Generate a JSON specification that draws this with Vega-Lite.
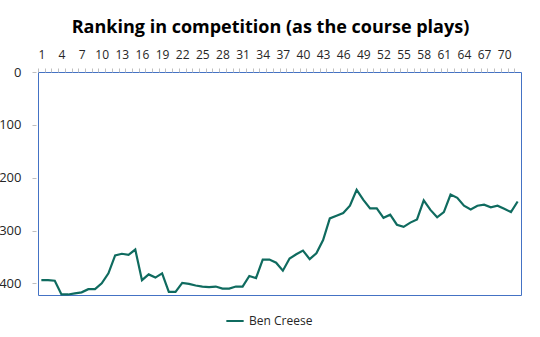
{
  "$schema": "https://vega.github.io/schema/vega-lite/v6.json",
  "width": 483,
  "height": 223,
  "autosize": {"type": "none"},
  "padding": {"left": 38, "top": 72, "right": 19, "bottom": 42},
  "background": "white",
  "title": {"text": "Ranking in competition (as the course plays)", "fontSize": 18, "font": "Open Sans", "fontWeight": "bold", "color": "#000000", "offset": 11, "dx": -9, "anchor": "middle"},
  "data": {"values": [
    {"hole": 1, "rank": 394, "player": "Ben Creese"},
    {"hole": 2, "rank": 394, "player": "Ben Creese"},
    {"hole": 3, "rank": 395, "player": "Ben Creese"},
    {"hole": 4, "rank": 421, "player": "Ben Creese"},
    {"hole": 5, "rank": 421, "player": "Ben Creese"},
    {"hole": 6, "rank": 419, "player": "Ben Creese"},
    {"hole": 7, "rank": 417, "player": "Ben Creese"},
    {"hole": 8, "rank": 411, "player": "Ben Creese"},
    {"hole": 9, "rank": 411, "player": "Ben Creese"},
    {"hole": 10, "rank": 400, "player": "Ben Creese"},
    {"hole": 11, "rank": 381, "player": "Ben Creese"},
    {"hole": 12, "rank": 347, "player": "Ben Creese"},
    {"hole": 13, "rank": 344, "player": "Ben Creese"},
    {"hole": 14, "rank": 346, "player": "Ben Creese"},
    {"hole": 15, "rank": 336, "player": "Ben Creese"},
    {"hole": 16, "rank": 394, "player": "Ben Creese"},
    {"hole": 17, "rank": 383, "player": "Ben Creese"},
    {"hole": 18, "rank": 389, "player": "Ben Creese"},
    {"hole": 19, "rank": 381, "player": "Ben Creese"},
    {"hole": 20, "rank": 416, "player": "Ben Creese"},
    {"hole": 21, "rank": 416, "player": "Ben Creese"},
    {"hole": 22, "rank": 399, "player": "Ben Creese"},
    {"hole": 23, "rank": 401, "player": "Ben Creese"},
    {"hole": 24, "rank": 404, "player": "Ben Creese"},
    {"hole": 25, "rank": 406, "player": "Ben Creese"},
    {"hole": 26, "rank": 407, "player": "Ben Creese"},
    {"hole": 27, "rank": 406, "player": "Ben Creese"},
    {"hole": 28, "rank": 410, "player": "Ben Creese"},
    {"hole": 29, "rank": 410, "player": "Ben Creese"},
    {"hole": 30, "rank": 406, "player": "Ben Creese"},
    {"hole": 31, "rank": 406, "player": "Ben Creese"},
    {"hole": 32, "rank": 386, "player": "Ben Creese"},
    {"hole": 33, "rank": 390, "player": "Ben Creese"},
    {"hole": 34, "rank": 355, "player": "Ben Creese"},
    {"hole": 35, "rank": 355, "player": "Ben Creese"},
    {"hole": 36, "rank": 361, "player": "Ben Creese"},
    {"hole": 37, "rank": 376, "player": "Ben Creese"},
    {"hole": 38, "rank": 353, "player": "Ben Creese"},
    {"hole": 39, "rank": 345, "player": "Ben Creese"},
    {"hole": 40, "rank": 338, "player": "Ben Creese"},
    {"hole": 41, "rank": 354, "player": "Ben Creese"},
    {"hole": 42, "rank": 343, "player": "Ben Creese"},
    {"hole": 43, "rank": 318, "player": "Ben Creese"},
    {"hole": 44, "rank": 277, "player": "Ben Creese"},
    {"hole": 45, "rank": 272, "player": "Ben Creese"},
    {"hole": 46, "rank": 267, "player": "Ben Creese"},
    {"hole": 47, "rank": 253, "player": "Ben Creese"},
    {"hole": 48, "rank": 223, "player": "Ben Creese"},
    {"hole": 49, "rank": 242, "player": "Ben Creese"},
    {"hole": 50, "rank": 258, "player": "Ben Creese"},
    {"hole": 51, "rank": 258, "player": "Ben Creese"},
    {"hole": 52, "rank": 276, "player": "Ben Creese"},
    {"hole": 53, "rank": 270, "player": "Ben Creese"},
    {"hole": 54, "rank": 289, "player": "Ben Creese"},
    {"hole": 55, "rank": 293, "player": "Ben Creese"},
    {"hole": 56, "rank": 285, "player": "Ben Creese"},
    {"hole": 57, "rank": 279, "player": "Ben Creese"},
    {"hole": 58, "rank": 243, "player": "Ben Creese"},
    {"hole": 59, "rank": 261, "player": "Ben Creese"},
    {"hole": 60, "rank": 275, "player": "Ben Creese"},
    {"hole": 61, "rank": 265, "player": "Ben Creese"},
    {"hole": 62, "rank": 232, "player": "Ben Creese"},
    {"hole": 63, "rank": 238, "player": "Ben Creese"},
    {"hole": 64, "rank": 253, "player": "Ben Creese"},
    {"hole": 65, "rank": 260, "player": "Ben Creese"},
    {"hole": 66, "rank": 253, "player": "Ben Creese"},
    {"hole": 67, "rank": 251, "player": "Ben Creese"},
    {"hole": 68, "rank": 256, "player": "Ben Creese"},
    {"hole": 69, "rank": 253, "player": "Ben Creese"},
    {"hole": 70, "rank": 259, "player": "Ben Creese"},
    {"hole": 71, "rank": 265, "player": "Ben Creese"},
    {"hole": 72, "rank": 245, "player": "Ben Creese"}
  ]},
  "mark": {"type": "line", "strokeWidth": 2.2},
  "encoding": {
    "x": {
      "field": "hole", "type": "quantitative",
      "scale": {"domain": [0.5, 72.5], "nice": false, "zero": false},
      "axis": {
        "orient": "top", "title": null, "grid": false, "domain": false,
        "values": [1,2,3,4,5,6,7,8,9,10,11,12,13,14,15,16,17,18,19,20,21,22,23,24,25,26,27,28,29,30,31,32,33,34,35,36,37,38,39,40,41,42,43,44,45,46,47,48,49,50,51,52,53,54,55,56,57,58,59,60,61,62,63,64,65,66,67,68,69,70,71,72],
        "labelExpr": "(datum.value - 1) % 3 === 0 ? datum.label : ''",
        "labelOverlap": false, "labelFlush": false,
        "tickSize": 4, "tickColor": "#bfbfbf", "tickOffset": -3.35, "labelOffset": 3.35,
        "labelFontSize": 12, "labelColor": "#262626", "labelPadding": 7, "labelFont": "Open Sans"
      }
    },
    "y": {
      "field": "rank", "type": "quantitative",
      "scale": {"domain": [0, 422], "reverse": true, "nice": false},
      "axis": {
        "title": null, "grid": false, "domain": false,
        "values": [0, 100, 200, 300, 400],
        "tickSize": 4, "tickColor": "#bfbfbf", "offset": 2, "labelPadding": 11,
        "labelFontSize": 13, "labelColor": "#262626", "labelFont": "Open Sans"
      }
    },
    "color": {
      "field": "player", "type": "nominal",
      "scale": {"range": ["#0f6b5f"]},
      "legend": {
        "orient": "none", "legendX": 187, "legendY": 239, "direction": "horizontal",
        "title": null, "symbolType": "stroke", "symbolStrokeWidth": 2,
        "symbolSize": 300, "labelFontSize": 12, "labelColor": "#262626", "labelFont": "Open Sans"
      }
    }
  },
  "config": {"view": {"stroke": "#4472c4", "strokeWidth": 1}, "font": "Open Sans"}
}
